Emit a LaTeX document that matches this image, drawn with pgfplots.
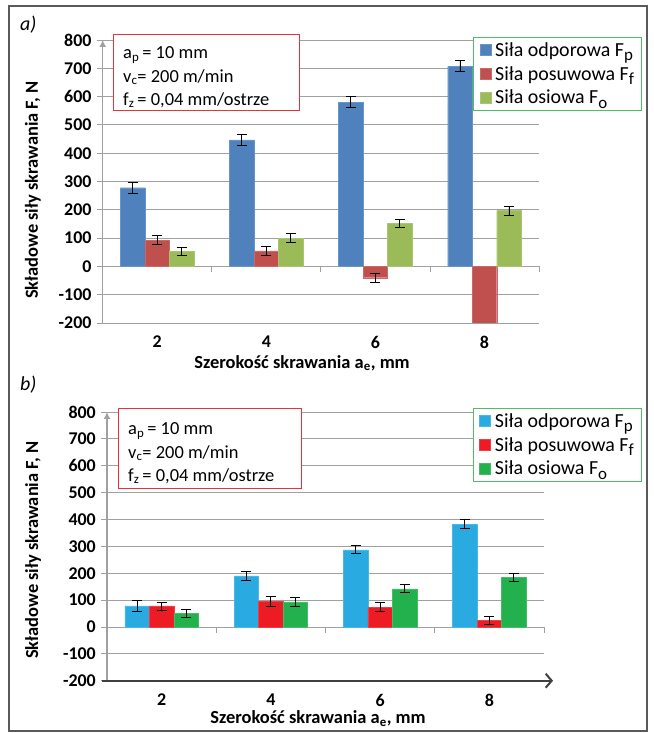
\documentclass[border=0pt]{standalone}
\usepackage{pgfplots}
\pgfplotsset{compat=1.18}
\usepackage{fontspec}
\setmainfont{Carlito}
\usetikzlibrary{arrows.meta}

\definecolor{bluA}{RGB}{79,129,189}
\definecolor{redA}{RGB}{192,80,77}
\definecolor{grnA}{RGB}{155,187,89}
\definecolor{bluB}{RGB}{41,171,226}
\definecolor{redB}{RGB}{237,28,36}
\definecolor{grnB}{RGB}{34,177,76}
\definecolor{gridc}{RGB}{160,160,160}
\definecolor{boxred}{RGB}{230,50,60}
\definecolor{boxgrn}{RGB}{80,190,100}
\definecolor{framec}{RGB}{90,90,90}

\newcommand\lsub[1]{\raisebox{-0.45ex}{\fontsize{17}{17}\selectfont #1}}

\pgfplotsset{
  forcechart/.style={
    scale only axis,
    xmin=0.5, xmax=4.5, ymin=-200, ymax=800,
    ytick={-200,-100,...,800},
    xtick={1,2,3,4}, xticklabels={2,4,6,8},
    ymajorgrids, grid style={gridc, line width=0.8bp},
    axis lines*=left,
    axis line style={draw=none},
    x tick style={draw=none},
    y tick style={gridc, line width=0.8bp},
    major tick length=6bp, tick align=outside,
    ticklabel style={font=\bfseries\fontsize{18}{18}\selectfont},
    yticklabel style={anchor=east, inner sep=0pt, xshift=-5bp},
    xticklabel style={anchor=north, inner sep=0pt, yshift=-7bp},
    /pgf/number format/assume math mode=true,
    ybar=0pt, bar width=24.5bp,
    legend image code/.code={\fill[##1] (0bp,-5.5bp) rectangle (11bp,5.5bp);},
    legend cell align=left,
    legend style={anchor=north west, draw=boxgrn, line width=1bp, fill=white,
      font=\fontsize{20}{20}\selectfont, inner xsep=6bp, inner ysep=3.5bp,
      row sep=5.5bp, nodes={inner sep=1.5bp},
      /tikz/every odd column/.append style={column sep=2bp}},
    label style={font=\bfseries\fontsize{18.5}{18.5}\selectfont},
    error bars/y dir=both, error bars/y explicit,
    error bars/error bar style={black, line width=0.9bp},
    error bars/error mark options={black, line width=0.9bp, mark size=5bp, rotate=90},
  }
}

\begin{document}
\begin{tikzpicture}[x=1bp,y=1bp]
\useasboundingbox (0,0) rectangle (654,733);
\draw[framec, line width=1.2bp] (9,727) rectangle (647,2);

% ---------------- panel a ----------------
\begin{axis}[forcechart, name=ta,
  at={(102.7bp,410bp)}, anchor=south west, width=436.3bp, height=283bp,
  legend style={at={(0.849,1.0106)}},
  xlabel={Szerokość skrawania a\textsubscript{e}, mm},
  ylabel={Składowe siły skrawania F, N},
  xlabel style={at={(axis description cs:0.457,-0.141)}, anchor=center},
  ylabel style={at={(axis description cs:-0.16,0.47)}, anchor=center},
]
\addplot[fill=bluA, draw=bluA!85!white] coordinates {(1,278) +- (0,20) (2,447) +- (0,20) (3,580) +- (0,19) (4,707) +- (0,19)};
\addplot[fill=redA, draw=redA!85!white] coordinates {(1,92) +- (0,16) (2,55) +- (0,15) (3,-40) +- (0,16) (4,-260) +- (0,15)};
\addplot[fill=grnA, draw=grnA!85!white] coordinates {(1,52) +- (0,15) (2,100) +- (0,15) (3,152) +- (0,15) (4,197) +- (0,16)};
\legend{Siła odporowa F\lsub{p}, Siła posuwowa F\lsub{f}, Siła osiowa F\lsub{o}}
\coordinate (ta1) at (axis cs:1.5,0);
\coordinate (ta2) at (axis cs:2.5,0);
\coordinate (ta3) at (axis cs:3.5,0);
\coordinate (ta4) at (axis cs:4.5,0);
\end{axis}
\draw[gridc, line width=0.8bp] (ta1) -- ++(0,-6) (ta2) -- ++(0,-6) (ta3) -- ++(0,-6) (ta4) -- ++(0,-6);
\draw[gridc, line width=1.3bp, -{Latex[length=7bp,width=7bp]}] (ta.south west) -- (ta.north west);
\draw[boxred, line width=1bp, fill=white] (113,698) rectangle (299,622);
\begin{scope}[every node/.style={anchor=base west, inner sep=0pt, font=\fontsize{18.5}{18.5}\selectfont}]
\node at (123,674) {a\textsubscript{p}\,= 10 mm};
\node at (123,650.7) {v\textsubscript{c}= 200 m/min};
\node at (123,627.7) {f\textsubscript{z}\,= 0,04 mm/ostrze};
\end{scope}
\node[anchor=west, inner sep=0pt, font=\itshape\fontsize{20}{20}\selectfont] at (20,708) {a)};

% ---------------- panel b ----------------
\begin{axis}[forcechart, name=tb,
  at={(107bp,52.3bp)}, anchor=south west, width=437bp, height=268.7bp,
  legend style={at={(0.8375,1.015)}},
  xlabel={Szerokość skrawania a\textsubscript{e}, mm},
  ylabel={Składowe siły skrawania F, N},
  xlabel style={at={(axis description cs:0.483,-0.142)}, anchor=center},
  ylabel style={at={(axis description cs:-0.169,0.486)}, anchor=center},
]
\addplot[fill=bluB, draw=bluB!85!white] coordinates {(1,78) +- (0,20) (2,190) +- (0,17) (3,287) +- (0,15) (4,383) +- (0,18)};
\addplot[fill=redB, draw=redB!85!white] coordinates {(1,78) +- (0,15) (2,95) +- (0,17) (3,73) +- (0,17) (4,25) +- (0,14)};
\addplot[fill=grnB, draw=grnB!85!white] coordinates {(1,50) +- (0,15) (2,93) +- (0,15) (3,142) +- (0,15) (4,185) +- (0,15)};
\legend{Siła odporowa F\lsub{p}, Siła posuwowa F\lsub{f}, Siła osiowa F\lsub{o}}
\coordinate (tb1) at (axis cs:1.5,0);
\coordinate (tb2) at (axis cs:2.5,0);
\coordinate (tb3) at (axis cs:3.5,0);
\coordinate (tb4) at (axis cs:4.5,0);
\end{axis}
\draw[gridc, line width=0.8bp] (tb1) -- ++(0,-6) (tb2) -- ++(0,-6) (tb3) -- ++(0,-6) (tb4) -- ++(0,-6);
\draw[gridc, line width=1.3bp, -{Latex[length=7bp,width=7bp]}] (tb.south west) -- (tb.north west);
\draw[black!75, line width=2bp, -{Straight Barb[length=6bp,width=14bp]}] ([xshift=-5bp]tb.south west) -- ([xshift=9bp]tb.south east);
\draw[boxred, line width=1bp, fill=white] (118,324) rectangle (301,244);
\begin{scope}[every node/.style={anchor=base west, inner sep=0pt, font=\fontsize{18.5}{18.5}\selectfont}]
\node at (128,298) {a\textsubscript{p}\,= 10 mm};
\node at (128,274.7) {v\textsubscript{c}= 200 m/min};
\node at (128,251.7) {f\textsubscript{z}\,= 0,04 mm/ostrze};
\end{scope}
\node[anchor=west, inner sep=0pt, font=\itshape\fontsize{20}{20}\selectfont] at (20,348) {b)};
\end{tikzpicture}
\end{document}
